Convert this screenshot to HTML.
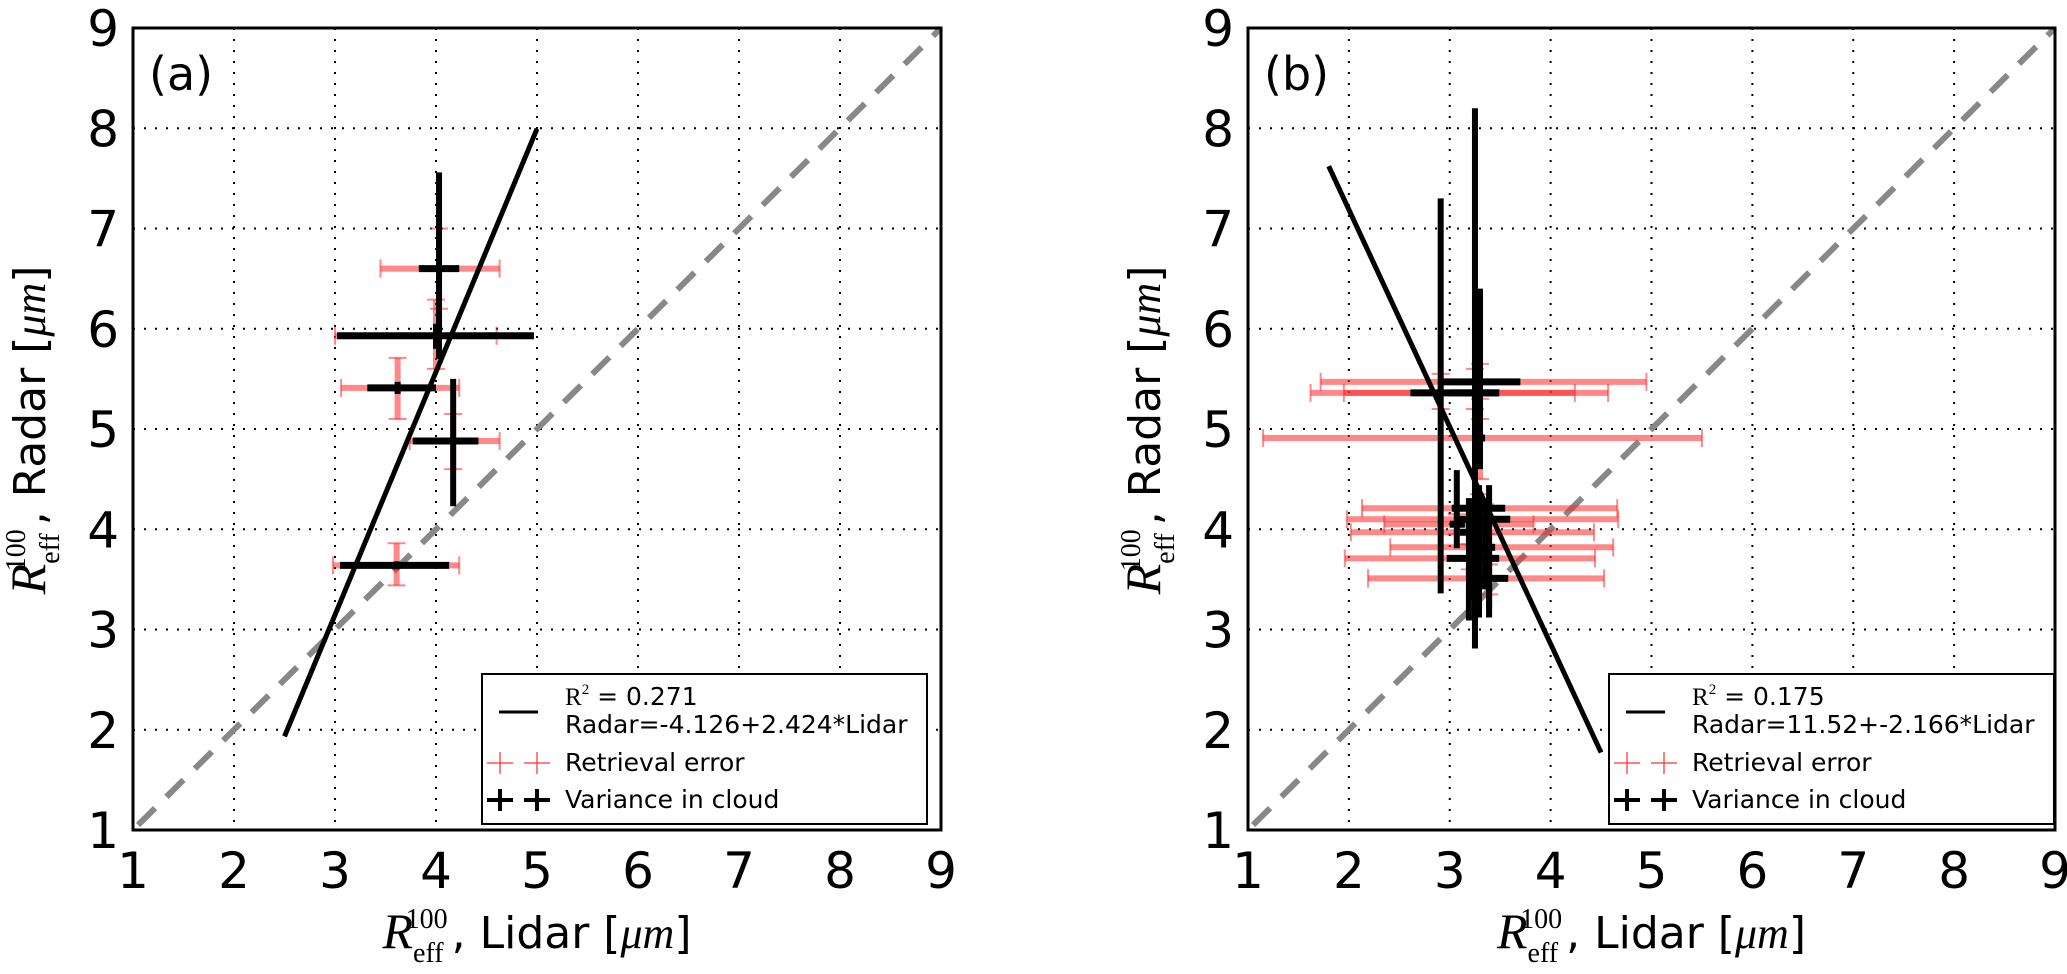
<!DOCTYPE html>
<html><head><meta charset="utf-8"><style>
html,body{margin:0;padding:0;background:#fff;}
svg{display:block;}
text{font-family:"DejaVu Sans","Liberation Sans",sans-serif;}
</style></head><body>
<svg id="fig" width="2067" height="974" xmlns="http://www.w3.org/2000/svg"></svg>
<script>
// Panel (a) data: x, y, black x-lo, black x-hi, black y-lo, black y-hi, red x-lo, red x-hi, red y-lo, red y-hi
const aX   = [4.03, 4.00, 3.62, 4.17, 3.61];
const aY   = [6.60, 5.93, 5.41, 4.88, 3.64];
const aBxl = [3.83, 3.02, 3.32, 3.77, 3.05];
const aBxh = [4.23, 4.97, 4.00, 4.42, 4.13];
const aByl = [5.70, 5.80, 5.35, 4.23, 3.60];
const aByh = [7.56, 6.05, 5.47, 5.50, 3.68];
const aRxl = [3.45, 3.00, 3.06, 3.74, 2.98];
const aRxh = [4.63, 4.60, 4.23, 4.63, 4.23];
const aRyl = [6.20, 5.60, 5.10, 4.60, 3.44];
const aRyh = [7.00, 6.29, 5.71, 5.15, 3.86];
const aFit = [-4.126, 2.424];
const aFitRange = [2.5, 5.0];

// Panel (b) data
const bX   = [3.30, 2.91, 3.25, 3.30, 3.29, 3.35, 3.07, 3.19, 3.39, 3.20, 3.39];
const bY   = [5.47, 5.36, 5.36, 4.91, 4.21, 4.10, 4.05, 3.97, 3.82, 3.71, 3.51];
const bBxl = [2.92, 2.61, 3.00, 3.25, 3.02, 3.06, 3.00, 3.10, 3.30, 2.97, 3.30];
const bBxh = [3.70, 3.49, 3.49, 3.35, 3.55, 3.60, 3.15, 3.30, 3.45, 3.49, 3.58];
const bByl = [4.90, 3.36, 2.81, 4.60, 3.12, 3.40, 3.81, 3.09, 3.12, 3.30, 3.20];
const bByh = [6.40, 7.30, 8.20, 5.20, 4.44, 4.30, 4.59, 4.31, 4.44, 4.00, 3.80];
const bRxl = [1.72, 1.62, 1.95, 1.15, 2.13, 1.98, 2.35, 2.02, 2.41, 1.96, 2.19];
const bRxh = [4.95, 4.57, 4.24, 5.50, 4.66, 4.67, 3.83, 4.43, 4.62, 4.44, 4.53];
const bRyl = [5.30, 5.20, 5.20, 4.50, 4.05, 3.95, 3.95, 3.85, 3.70, 3.60, 3.35];
const bRyh = [5.65, 5.55, 5.60, 5.10, 4.35, 4.25, 4.15, 4.10, 3.95, 3.85, 3.65];
const bFit = [11.52, -2.166];
const bFitRange = [1.8, 4.5];

const ticks = [1,2,3,4,5,6,7,8,9];
const NS = "http://www.w3.org/2000/svg";
const svg = document.getElementById('fig');
function mk(tag, attrs, parent){
  const e = document.createElementNS(NS, tag);
  for (const k in attrs) e.setAttribute(k, attrs[k]);
  (parent||svg).appendChild(e);
  return e;
}
const TITLE_R = '<tspan font-family="Liberation Serif, serif" font-style="italic" font-size="50">R</tspan><tspan font-family="Liberation Serif, serif" font-size="28" dy="14">eff</tspan><tspan font-family="Liberation Serif, serif" font-size="28" dx="-38" dy="-34">100</tspan>';

function panel(L, R, label, X, Y, Bxl, Bxh, Byl, Byh, Rxl, Rxh, Ryl, Ryh, fit, fr, r2, eq, lg){
  const T = 28, B = 830;
  const sx = v => L + (v-1)*(R-L)/8;
  const sy = v => B - (v-1)*(B-T)/8;
  const g = mk('g', {});
  
  
  ticks.forEach(t => {
    if (t>1 && t<9) {
      const gl = mk('line', {x1:sx(t), x2:sx(t), y1:T, y2:B, stroke:'#000', 'stroke-width':2, 'stroke-dasharray':'2 9'}, g);
      
      
      const gh = mk('line', {x1:L, x2:R, y1:sy(t), y2:sy(t), stroke:'#000', 'stroke-width':2, 'stroke-dasharray':'2 9'}, g);
      
      
    }
    const tx = mk('text', {x:sx(t), y:B+58, 'font-size':50, 'text-anchor':'middle'}, g);
    tx.textContent = t;
    
    
    const ty = mk('text', {x:L-14, y:sy(t)+18, 'font-size':50, 'text-anchor':'end'}, g);
    ty.textContent = t;
    
    
  });
  const d = mk('line', {x1:sx(1.05), y1:sy(1.05), x2:sx(9), y2:sy(9), stroke:'#888', 'stroke-width':6, 'stroke-dasharray':'24 16'}, g);
  
  
  X.forEach((x,i) => {
    const e1 = mk('line', {x1:sx(Rxl[i]), x2:sx(Rxh[i]), y1:sy(Y[i]), y2:sy(Y[i]), stroke:'rgba(255,40,40,0.55)', 'stroke-width':6}, g);
    
    
    const e2 = mk('line', {x1:sx(x), x2:sx(x), y1:sy(Ryl[i]), y2:sy(Ryh[i]), stroke:'rgba(255,40,40,0.55)', 'stroke-width':6}, g);
    
    
    [Rxl[i], Rxh[i]].forEach(v => {
      const c = mk('line', {x1:sx(v), x2:sx(v), y1:sy(Y[i])-9, y2:sy(Y[i])+9, stroke:'rgba(255,40,40,0.55)', 'stroke-width':2}, g);
      
      
    });
    [Ryl[i], Ryh[i]].forEach(v => {
      const c = mk('line', {x1:sx(x)-9, x2:sx(x)+9, y1:sy(v), y2:sy(v), stroke:'rgba(255,40,40,0.55)', 'stroke-width':2}, g);
      
      
    });
  });
  X.forEach((x,i) => {
    const v1 = mk('line', {x1:sx(Bxl[i]), x2:sx(Bxh[i]), y1:sy(Y[i]), y2:sy(Y[i]), stroke:'#000', 'stroke-width':7}, g);
    
    
    const v2 = mk('line', {x1:sx(x), x2:sx(x), y1:sy(Byl[i]), y2:sy(Byh[i]), stroke:'#000', 'stroke-width':6}, g);
    
    
  });
  const f = mk('line', {x1:sx(fr[0]), y1:sy(fit[0]+fit[1]*fr[0]), x2:sx(fr[1]), y2:sy(fit[0]+fit[1]*fr[1]), stroke:'#000', 'stroke-width':5}, g);
  
  
  const fr2 = mk('rect', {x:L, y:T, width:R-L, height:B-T, fill:'none', stroke:'#000', 'stroke-width':3}, g);
  
  
  const pl = mk('text', {x:L+16, y:T+62, 'font-size':46}, g);
  pl.textContent = '(' + label + ')';
  
  
  const lgx = lg;
  const lgG = mk('g', {}, g);
  
  
  mk('rect', {x:lgx, y:674, width:445, height:150, fill:'#fff', stroke:'#000', 'stroke-width':2}, lgG);
  mk('line', {x1:lgx+17, x2:lgx+56, y1:712, y2:712, stroke:'#000', 'stroke-width':3}, lgG);
  const t1 = mk('text', {x:lgx+83, y:705, 'font-size':25}, lgG);
  t1.innerHTML = '<tspan font-family="Liberation Serif, serif">R</tspan><tspan font-size="15" dy="-11" font-family="Liberation Serif, serif">2</tspan><tspan dy="11"> = ' + r2 + '</tspan>';
  
  
  const t2 = mk('text', {x:lgx+83, y:733, 'font-size':25}, lgG);
  t2.textContent = eq;
  
  
  [[763,'rgba(255,40,40,0.6)',2,'Retrieval error'],[800,'#000',4,'Variance in cloud']].forEach(r => {
    [lgx+18, lgx+55].forEach(cx => {
      mk('line', {x1:cx-13, x2:cx+13, y1:r[0], y2:r[0], stroke:r[1], 'stroke-width':r[2]}, lgG);
      mk('line', {x1:cx, x2:cx, y1:r[0]-11, y2:r[0]+11, stroke:r[1], 'stroke-width':r[2]}, lgG);
    });
    const t = mk('text', {x:lgx+83, y:r[0]+8, 'font-size':25}, lgG);
    t.textContent = r[3];
    
    
  });
  const xt = mk('text', {x:(L+R)/2, y:948, 'font-size':44, 'text-anchor':'middle'}, g);
  xt.innerHTML = TITLE_R + '<tspan dy="20" dx="4">, Lidar [</tspan><tspan font-family="Liberation Serif, serif" font-style="italic">μm</tspan><tspan>]</tspan>';
  
  
  const yt = mk('text', {x:0, y:0, 'font-size':44, 'text-anchor':'middle', transform:'translate(' + (L-88) + ',430) rotate(-90)'}, g);
  yt.innerHTML = TITLE_R + '<tspan dy="20" dx="4">, Radar [</tspan><tspan font-family="Liberation Serif, serif" font-style="italic">μm</tspan><tspan>]</tspan>';
  
  
}
panel(133, 941, 'a', aX, aY, aBxl, aBxh, aByl, aByh, aRxl, aRxh, aRyl, aRyh, aFit, aFitRange, '0.271', 'Radar=-4.126+2.424*Lidar', 482);
panel(1248, 2055, 'b', bX, bY, bBxl, bBxh, bByl, bByh, bRxl, bRxh, bRyl, bRyh, bFit, bFitRange, '0.175', 'Radar=11.52+-2.166*Lidar', 1609);
</script>
</body></html>
